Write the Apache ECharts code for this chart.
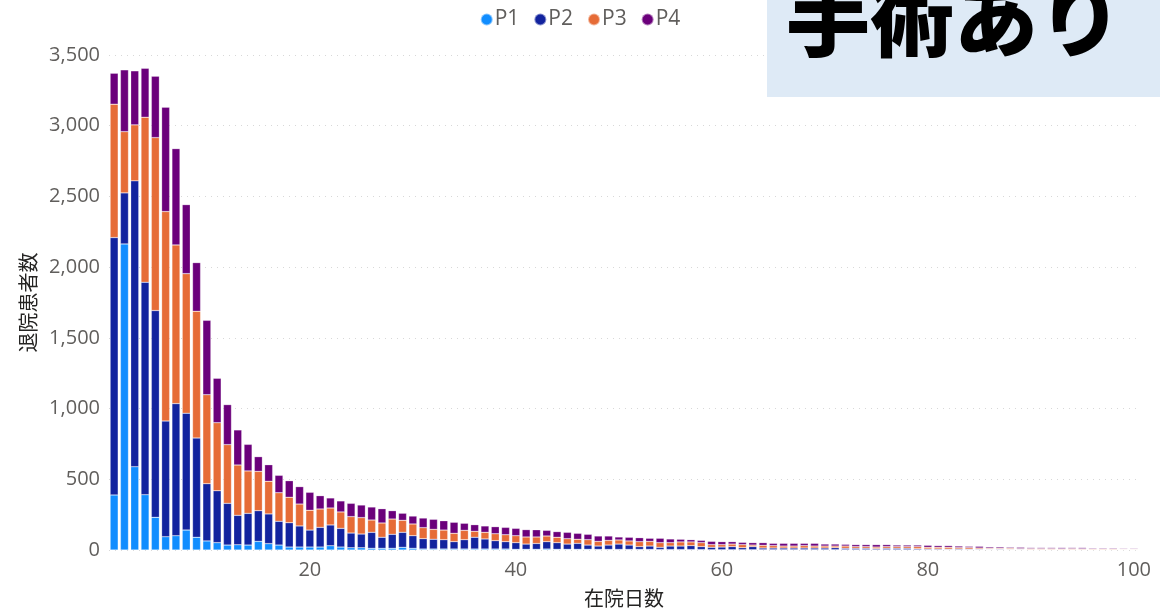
<!DOCTYPE html>
<html>
<head>
<meta charset="utf-8">
<script src="https://cdn.jsdelivr.net/npm/echarts@6/dist/echarts.min.js"></script>
<style>
  html, body { margin: 0; padding: 0; background: #fff; }
  #main { width: 1160px; height: 610px; }
</style>
</head>
<body>
<div id="main"></div>
<script>
// Days in hospital (在院日数) 1..100
const days = Array.from({ length: 100 }, (_, i) => String(i + 1));
const xTickLabels = ['20', '40', '60', '80', '100'];
const seriesNames = ['P1', 'P2', 'P3', 'P4'];

const p1 = [389, 2164, 589, 391, 231, 94, 101, 141, 90, 64,
  52, 35, 37, 35, 61, 45, 35, 21, 21, 21,
  21, 30, 21, 16, 16, 12, 12, 12, 19, 12,
  7, 7, 7, 7, 7, 7, 7, 7, 7, 5,
  5, 5, 7, 5, 5, 5, 5, 4, 4, 4,
  4, 4, 4, 3, 3, 3, 3, 3, 2, 2,
  2, 2, 2, 2, 2, 2, 2, 2, 2, 2,
  2, 2, 2, 2, 2, 2, 2, 2, 2, 1,
  1, 1, 1, 1, 1, 2, 1, 1, 1, 1,
  1, 1, 1, 1, 1, 1, 1, 1, 1, 1];
const p2 = [1820, 361, 2021, 1502, 1462, 818, 934, 826, 702, 405,
  367, 295, 208, 224, 217, 210, 168, 172, 149, 120,
  139, 147, 132, 104, 97, 113, 78, 99, 106, 89,
  73, 69, 66, 52, 66, 83, 71, 59, 52, 47,
  37, 41, 52, 47, 37, 42, 30, 24, 31, 38,
  31, 20, 24, 16, 25, 25, 28, 21, 17, 19,
  22, 14, 22, 12, 12, 12, 12, 12, 12, 12,
  14, 10, 10, 10, 8, 10, 10, 10, 7, 6,
  6, 5, 6, 5, 5, 4, 5, 4, 4, 3,
  3, 3, 3, 3, 3, 2, 2, 2, 2, 2];
const p3 = [943, 433, 396, 1167, 1223, 1481, 1122, 987, 896, 629,
  481, 415, 356, 300, 278, 231, 202, 180, 155, 140,
  130, 120, 116, 116, 116, 87, 101, 108, 85, 83,
  78, 70, 68, 59, 66, 42, 47, 49, 49, 49,
  50, 46, 40, 38, 38, 29, 38, 33, 33, 29,
  29, 35, 33, 33, 24, 29, 26, 28, 19, 17,
  18, 22, 11, 19, 17, 14, 14, 17, 14, 14,
  12, 16, 12, 12, 11, 12, 12, 12, 15, 12,
  12, 13, 10, 11, 8, 6, 6, 7, 5, 6,
  6, 6, 5, 6, 5, 5, 5, 5, 4, 4];
const p4 = [219, 437, 382, 346, 434, 738, 681, 488, 344, 526,
  314, 283, 248, 188, 104, 117, 123, 117, 123, 127,
  94, 71, 78, 94, 89, 92, 101, 59, 50, 56,
  68, 71, 66, 78, 50, 47, 45, 50, 52, 52,
  52, 51, 40, 40, 45, 42, 38, 38, 31, 21,
  26, 28, 22, 31, 26, 19, 16, 16, 23, 21,
  17, 16, 17, 19, 16, 19, 19, 16, 19, 14,
  14, 12, 14, 14, 17, 14, 11, 11, 11, 14,
  12, 12, 11, 9, 12, 9, 9, 7, 9, 7,
  7, 7, 8, 7, 8, 6, 6, 6, 5, 5];

const colors = ['#118DFF', '#12239E', '#E66C37', '#6B007B'];
const seriesData = [p1, p2, p3, p4];

const chart = echarts.init(document.getElementById('main'));
const labelFont = '"Open Sans", "Noto Sans", "Noto Sans CJK JP", sans-serif';

chart.setOption({
  animation: false,
  color: colors,
  legend: {
    top: 4,
    left: 'center',
    icon: 'circle',
    itemWidth: 12,
    itemHeight: 12,
    itemGap: 14,
    textStyle: { color: '#605E5C', fontSize: 21, fontFamily: labelFont, padding: [0, 0, 0, -3] },
    data: seriesNames
  },
  grid: { left: 109, right: 21, top: 55, bottom: 60, outerBoundsMode: 'none', containLabel: false },
  xAxis: {
    type: 'category',
    data: days,
    name: '在院日数',
    nameLocation: 'middle',
    nameGap: 38,
    nameTextStyle: { color: '#252423', fontSize: 20, fontFamily: '"Noto Sans CJK JP", sans-serif' },
    axisLine: { show: false },
    axisTick: { show: false },
    axisLabel: {
      color: '#605E5C',
      fontSize: 20,
      fontFamily: labelFont,
      margin: 10,
      interval: (idx, val) => xTickLabels.indexOf(val) !== -1
    }
  },
  yAxis: {
    type: 'value',
    min: 0,
    max: 3500,
    interval: 500,
    name: '退院患者数',
    nameLocation: 'middle',
    nameGap: 70,
    nameTextStyle: { color: '#252423', fontSize: 20, fontFamily: '"Noto Sans CJK JP", sans-serif' },
    axisLabel: {
      color: '#605E5C',
      fontSize: 20,
      fontFamily: labelFont,
      margin: 9,
      formatter: v => v.toLocaleString('en-US')
    },
    splitLine: { lineStyle: { color: '#D8D8D8', type: [1, 5], width: 1 } }
  },
  series: seriesNames.map((name, i) => ({
    name,
    type: 'bar',
    stack: 'total',
    data: seriesData[i],
    barCategoryGap: '22%',
    itemStyle: { color: colors[i], borderColor: 'rgba(255,255,255,0.5)', borderWidth: 0.5 }
  })),
  graphic: [
    {
      type: 'rect',
      left: 767, top: 0,
      shape: { width: 393, height: 97 },
      style: { fill: '#DEEAF6' },
      z: 100
    },
    {
      type: 'text',
      x: 954, y: 18,
      style: {
        text: '手術あり',
        fill: '#000',
        fontSize: 84,
        fontWeight: 900,
        fontFamily: '"Noto Sans CJK JP", sans-serif',
        align: 'center',
        verticalAlign: 'middle'
      },
      z: 101
    }
  ]
});
</script>
</body>
</html>
